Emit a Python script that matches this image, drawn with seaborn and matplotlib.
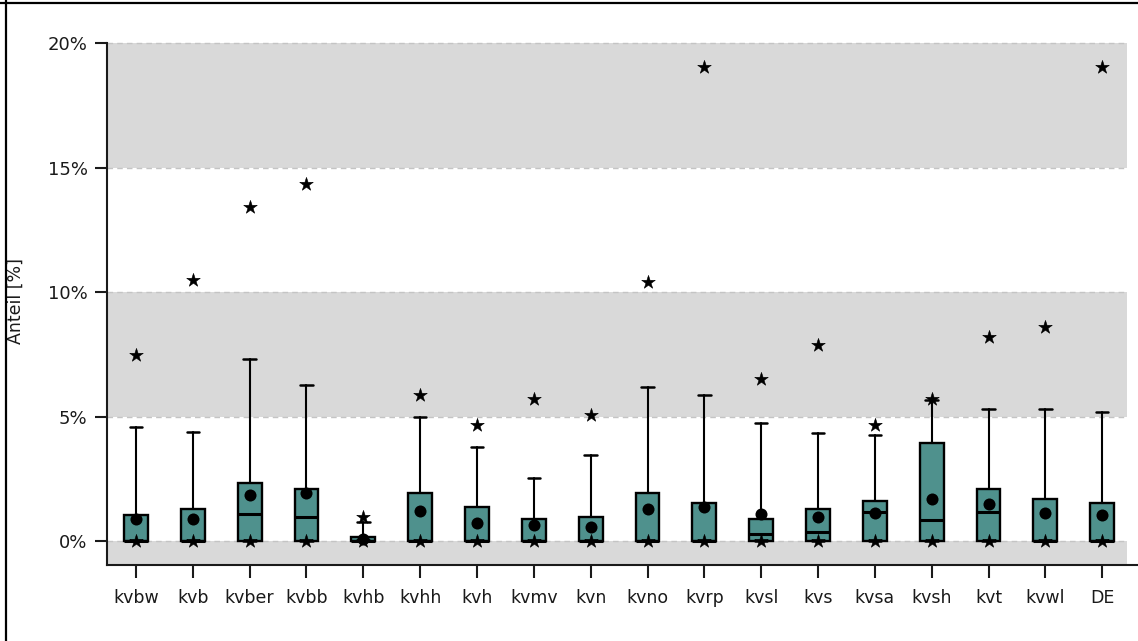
import numpy as np
import pandas as pd
import seaborn as sns
import matplotlib.pyplot as plt
from matplotlib.lines import Line2D

# KV regions, shares in percent
regions = ['kvbw', 'kvb', 'kvber', 'kvbb', 'kvhb', 'kvhh', 'kvh', 'kvmv', 'kvn',
           'kvno', 'kvrp', 'kvsl', 'kvs', 'kvsa', 'kvsh', 'kvt', 'kvwl', 'DE']
q1 = [0, 0, 0, 0, 0, 0, 0, 0, 0, 0, 0, 0, 0, 0, 0, 0, 0, 0]
medians = [0, 0, 1.08, 0.96, 0.02, 0, 0, 0, 0, 0, 0, 0.28, 0.36, 1.16, 0.84, 1.16, 0, 0]
q3 = [1.04, 1.28, 2.33, 2.09, 0.15, 1.93, 1.37, 0.88, 0.96, 1.93, 1.53, 0.88, 1.28,
      1.6, 3.94, 2.09, 1.69, 1.53]
whisk_hi = [4.58, 4.38, 7.31, 6.27, 0.75, 4.98, 3.78, 2.53, 3.45, 6.18, 5.86, 4.74,
            4.34, 4.26, 5.66, 5.3, 5.3, 5.18]
means = [0.88, 0.88, 1.85, 1.93, 0.1, 1.2, 0.73, 0.64, 0.56, 1.28, 1.37, 1.08, 0.96,
         1.12, 1.69, 1.49, 1.12, 1.04]
max_vals = [7.47, 10.48, 13.4, 14.33, 0.95, 5.86, 4.66, 5.7, 5.06, 10.4, 19.04, 6.5,
            7.87, 4.66, 5.7, 8.19, 8.6, 19.04]
min_vals = [0, 0, 0, 0, 0, 0, 0, 0, 0, 0, 0, 0, 0, 0, 0, 0, 0, 0]
yticks = [0, 5, 10, 15, 20]

sns.set_style('white')
plt.rcParams['font.family'] = ['DejaVu Sans']

fig = plt.figure(figsize=(11.38, 6.41), dpi=100)
ax = fig.add_axes([107 / 1138, 76 / 641, 1031 / 1138, 565 / 641])

n = len(regions)
pos = np.arange(n)

# background bands + dashed grid
band_end = 0.989
for lo, hi in [(-2, 0), (5, 10), (15, 20)]:
    ax.axhspan(lo, hi, xmin=0, xmax=band_end, color='#d9d9d9', lw=0, zorder=0)
for t in yticks:
    ax.axhline(t, xmin=0, xmax=band_end, color='#c4c4c4', lw=1, ls=(0, (4, 3)), zorder=0.5)

stats = []
for i in range(n):
    stats.append({'label': regions[i], 'whislo': min_vals[i], 'q1': q1[i],
                  'med': medians[i], 'q3': q3[i], 'whishi': whisk_hi[i]})

ax.bxp(stats, positions=pos, widths=0.42, capwidths=0.22, patch_artist=True,
       showfliers=False,
       boxprops=dict(facecolor='#4f918d', edgecolor='black', linewidth=1.7),
       medianprops=dict(color='black', linewidth=2.2),
       whiskerprops=dict(color='black', linewidth=1.5),
       capprops=dict(color='black', linewidth=1.8))

mean_df = pd.DataFrame({'pos': pos, 'value': means})
ext_df = pd.DataFrame({'pos': np.concatenate([pos, pos]),
                       'value': max_vals + min_vals})

sns.scatterplot(data=mean_df, x='pos', y='value', ax=ax, color='black', marker='o',
                s=75, linewidth=0, zorder=4, legend=False)
sns.scatterplot(data=ext_df, x='pos', y='value', ax=ax, color='black', marker='*',
                s=105, linewidth=0.4, edgecolor='black', zorder=5, legend=False)

ax.set_xlim(-0.51, 17.63)
ax.set_ylim(-0.964, 21.73)
ax.set_xticks(pos)
ax.set_xticklabels(regions)
ax.set_yticks(yticks)
ax.set_yticklabels([f'{t}%' for t in yticks])
ax.set_xlabel('')
ax.set_ylabel('Anteil [%]', fontsize=12.5, color='#1a1a1a')
ax.yaxis.set_label_coords(-0.0795, 0.467)

for s in ['top', 'right']:
    ax.spines[s].set_visible(False)
ax.spines['left'].set_bounds(-0.964, 20)
for s in ['left', 'bottom']:
    ax.spines[s].set_color('#1a1a1a')
    ax.spines[s].set_linewidth(1.5)

ax.tick_params(axis='x', length=9, width=1.5, pad=8, labelsize=12.5, colors='#1a1a1a',
               bottom=True)
ax.tick_params(axis='y', length=9, width=1.5, pad=5, labelsize=13, colors='#1a1a1a',
               left=True)

# frame lines at the left and top of the image
fig.add_artist(Line2D([5.5 / 1138, 5.5 / 1138], [0, 1], color='black', lw=1.6,
                      transform=fig.transFigure))
fig.add_artist(Line2D([0, 1], [1 - 2.5 / 641, 1 - 2.5 / 641], color='black', lw=1.6,
                      transform=fig.transFigure))

fig.savefig('out.png', dpi=100)
